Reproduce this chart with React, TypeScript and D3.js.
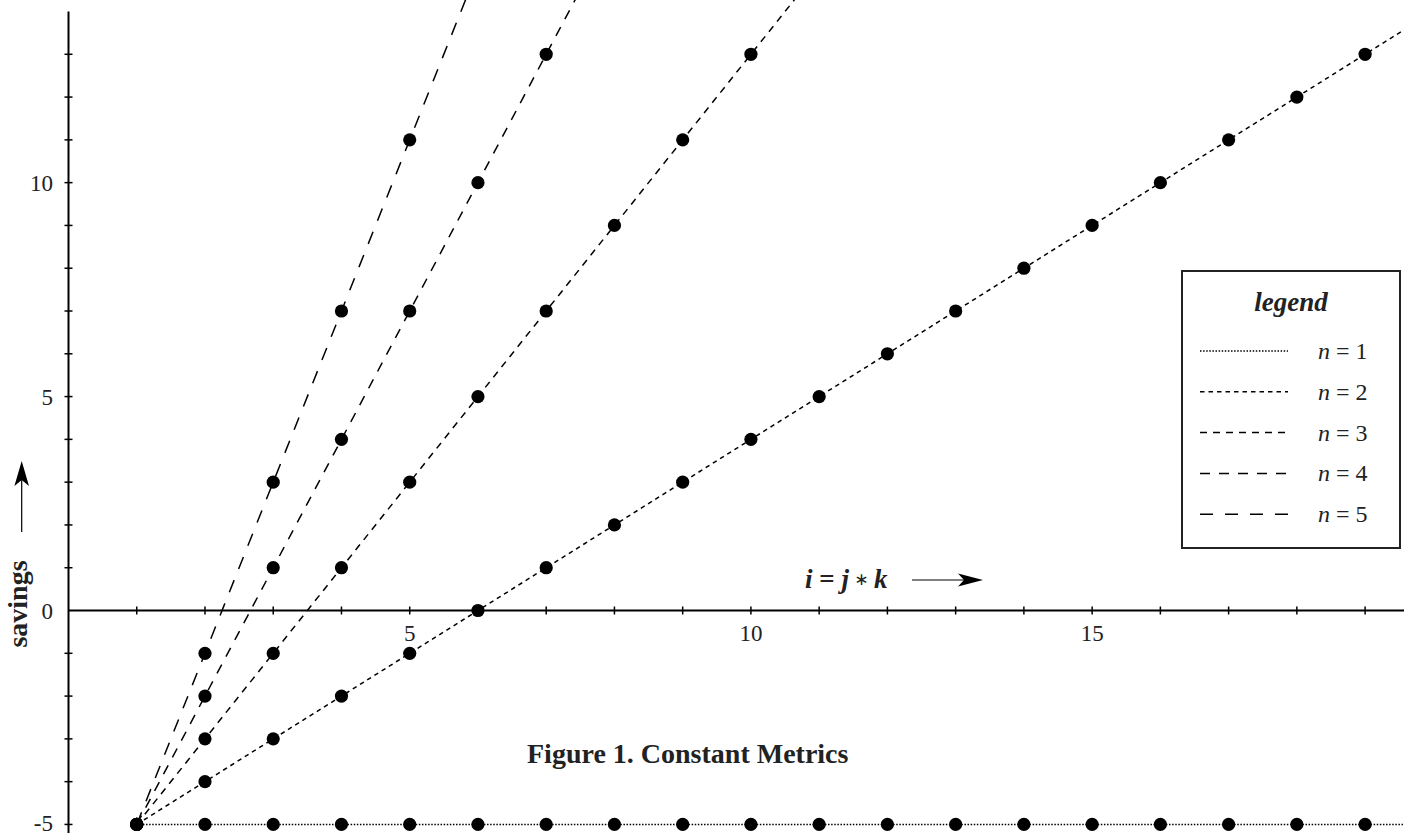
import React from 'react';
import * as d3 from 'd3';

// ---- data ----
const xValues = [1, 2, 3, 4, 5, 6, 7, 8, 9, 10, 11, 12, 13, 14, 15, 16, 17, 18, 19, 20];
const seriesN1 = [-5, -5, -5, -5, -5, -5, -5, -5, -5, -5, -5, -5, -5, -5, -5, -5, -5, -5, -5, -5];
const seriesN2 = [-5, -4, -3, -2, -1, 0, 1, 2, 3, 4, 5, 6, 7, 8, 9, 10, 11, 12, 13, 14];
const seriesN3 = [-5, -3, -1, 1, 3, 5, 7, 9, 11, 13, 15];
const seriesN4 = [-5, -2, 1, 4, 7, 10, 13, 16];
const seriesN5 = [-5, -1, 3, 7, 11, 15];
const seriesLabels = [1, 2, 3, 4, 5];
const xTickLabels = [5, 10, 15];
const yTickLabels = [-5, 0, 5, 10];
const xMinorTicks = [1, 2, 3, 4, 5, 6, 7, 8, 9, 10, 11, 12, 13, 14, 15, 16, 17, 18, 19];
const yMinorTicks = [-5, -4, -3, -2, -1, 1, 2, 3, 4, 5, 6, 7, 8, 9, 10, 11, 12, 13];

const W = 1410;
const H = 833;
const FONT = '"Liberation Serif", "Times New Roman", serif';

const dashes = ['1.5,1.6', '4.5,4', '7,6', '10,9', '13,12'];

export default function App() {
  const x = d3.scaleLinear().domain([0, 19.57]).range([68.5, 1404]);
  const y = d3.scaleLinear().domain([-5.2, 14]).range([833, 11.5]);

  const allSeries = [seriesN1, seriesN2, seriesN3, seriesN4, seriesN5];
  const line = d3
    .line<number>()
    .x((_, i) => x(xValues[i]))
    .y((d) => y(d));

  const x0 = x(0);
  const y0 = y(0);

  const legendX = 1182;
  const legendY = 271;
  const legendW = 218;
  const legendH = 277;
  const rowY = (i: number) => 351 + i * 40.8;

  return (
    <svg
      width={W}
      height={H}
      style={{ position: 'absolute', left: 0, top: 0, display: 'block', background: '#fff' }}
      fontFamily={FONT}
    >
      <defs>
        <clipPath id="plotClip">
          <rect x={x(0)} y={0} width={x(19.57) - x(0)} height={H} />
        </clipPath>
      </defs>

      {/* axes */}
      <line x1={x0} x2={x0} y1={y(14)} y2={y(-5.2)} stroke="#000" strokeWidth={2} />
      <line x1={x0} x2={x(19.57)} y1={y0} y2={y0} stroke="#000" strokeWidth={2} />
      {xMinorTicks.map((t) => (
        <line key={'xt' + t} x1={x(t)} x2={x(t)} y1={y0 - 4} y2={y0 + 4} stroke="#000" strokeWidth={1.5} />
      ))}
      {yMinorTicks.map((t) => (
        <line key={'yt' + t} x1={x0 - 4} x2={x0 + 4} y1={y(t)} y2={y(t)} stroke="#000" strokeWidth={1.5} />
      ))}
      {xTickLabels.map((t) => (
        <text key={'xl' + t} x={x(t)} y={y0 + 30} fontSize={23} textAnchor="middle" fill="#222">
          {t}
        </text>
      ))}
      {yTickLabels.map((t) => (
        <text key={'yl' + t} x={53} y={Math.min(y(t) + 8.5, 831)} fontSize={23} textAnchor="end" fill="#222">
          {t}
        </text>
      ))}

      {/* series */}
      <g clipPath="url(#plotClip)">
        {allSeries.map((s, i) => (
          <path
            key={'s' + i}
            d={line(s) || ''}
            fill="none"
            stroke="#000"
            strokeWidth={1.5}
            strokeDasharray={dashes[i]}
          />
        ))}
        {allSeries.map((s, i) =>
          s.map((v, j) => (
            <circle key={'c' + i + '-' + j} cx={x(xValues[j])} cy={y(v)} r={6.6} fill="#000" />
          ))
        )}
      </g>

      {/* y axis label */}
      <text
        transform={`translate(27,604) rotate(-90)`}
        fontSize={28}
        fontWeight="bold"
        textAnchor="middle"
        fill="#222"
      >
        savings
      </text>
      <line x1={21.7} x2={21.7} y1={532} y2={478} stroke="#000" strokeWidth={1.2} />
      <path d="M21.7,461 L29,486 L21.7,480 L14.4,486 Z" fill="#000" />

      {/* x axis label */}
      <text x={805} y={588} fontSize={27} fontWeight="bold" fill="#222">
        <tspan fontStyle="italic">i</tspan>
        <tspan> = </tspan>
        <tspan fontStyle="italic">j</tspan>
        <tspan fontWeight="normal" fontSize={17} fontFamily='"DejaVu Sans", sans-serif' dy={-3}> ∗ </tspan>
        <tspan fontStyle="italic" dy={3}>k</tspan>
      </text>
      <line x1={912} x2={966} y1={580} y2={580} stroke="#000" strokeWidth={1.2} />
      <path d="M983,580 L958,573.5 L964,580 L958,586.5 Z" fill="#000" />

      {/* title */}
      <text x={527} y={763} fontSize={28} fontWeight="bold" fill="#222">
        Figure 1. Constant Metrics
      </text>

      {/* legend */}
      <rect x={legendX} y={legendY} width={legendW} height={legendH} fill="#fff" stroke="#222" strokeWidth={2} />
      <text
        x={legendX + legendW / 2}
        y={311}
        fontSize={27}
        fontWeight="bold"
        fontStyle="italic"
        textAnchor="middle"
        fill="#222"
      >
        legend
      </text>
      {seriesLabels.map((n, i) => (
        <g key={'lg' + n}>
          <line
            x1={1200}
            x2={1288}
            y1={rowY(i)}
            y2={rowY(i)}
            stroke="#000"
            strokeWidth={1.5}
            strokeDasharray={dashes[i]}
          />
          <text x={1318} y={rowY(i) + 8} fontSize={24} fill="#222">
            <tspan fontStyle="italic">n</tspan>
            <tspan> = {n}</tspan>
          </text>
        </g>
      ))}
    </svg>
  );
}
